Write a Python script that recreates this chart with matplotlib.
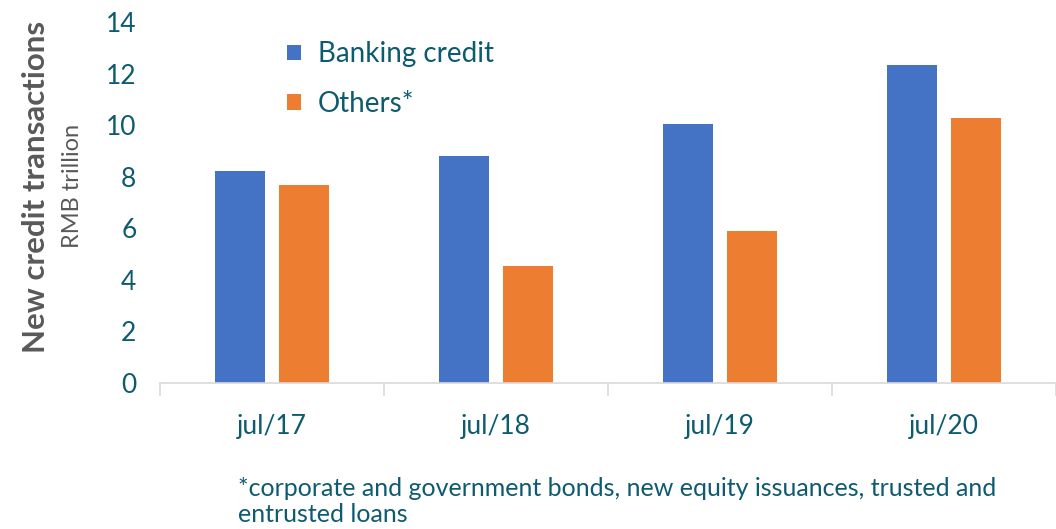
import matplotlib.pyplot as plt
import numpy as np

categories = ["jul/17", "jul/18", "jul/19", "jul/20"]
banking = [8.22, 8.8, 10.05, 12.33]
others = [7.67, 4.52, 5.88, 10.28]

BLUE = "#4472C4"
ORANGE = "#ED7D31"
TEAL = "#0E5B70"
GRAY = "#595959"

plt.rcParams["font.family"] = ["Lato", "DejaVu Sans"]

fig = plt.figure(figsize=(10.56, 5.29), dpi=100)
# axes box: left edge at the first category boundary, runs off the right side
ax = fig.add_axes([160 / 1056, 1 - 383 / 529, 1 - 160 / 1056, (383 - 22) / 529])

x = np.arange(len(categories))
w = 0.222
ax.bar(x - 0.143, banking, w, color=BLUE, label="Banking credit")
ax.bar(x + 0.143, others, w, color=ORANGE, label="Others*")

ax.set_ylim(0, 14)
ax.set_yticks(range(0, 15, 2))
ax.set_xlim(-0.5, -0.5 + (1056 - 160) / 227.5)
ax.set_xticks(x)
ax.set_xticklabels(categories)
ax.set_xticks(np.arange(-0.5, 3.6, 1), minor=True)

for s in ["top", "right", "left"]:
    ax.spines[s].set_visible(False)
ax.spines["bottom"].set_color("#D9D9D9")
ax.spines["bottom"].set_linewidth(1.2)

ax.tick_params(axis="y", length=0, pad=17, labelsize=19, labelcolor=TEAL)
ax.tick_params(axis="x", which="major", length=0, pad=22, labelsize=19, labelcolor=TEAL)
ax.tick_params(axis="x", which="minor", length=9, width=1.2, color="#D9D9D9")

leg = ax.legend(loc="upper left", bbox_to_anchor=(0.12, 1.0), frameon=False,
                fontsize=20, handlelength=0.5, handleheight=0.5, labelspacing=0.85,
                handletextpad=0.6, borderaxespad=0.3)
for t in leg.get_texts():
    t.set_color(TEAL)

fig.text(0.034, 0.646, "New credit transactions", rotation=90, ha="center", va="center",
         fontsize=22.5, fontweight="bold", color=GRAY)
fig.text(0.069, 0.648, "RMB trillion", rotation=90, ha="center", va="center",
         fontsize=17, color=GRAY)

fig.text(238 / 1056, 1 - 488 / 529, "*corporate and government bonds, new equity issuances, trusted and",
         ha="left", va="center", fontsize=18, color=TEAL)
fig.text(238 / 1056, 1 - 515 / 529, "entrusted loans", ha="left", va="center",
         fontsize=18, color=TEAL)

fig.savefig("out.png", dpi=100)
